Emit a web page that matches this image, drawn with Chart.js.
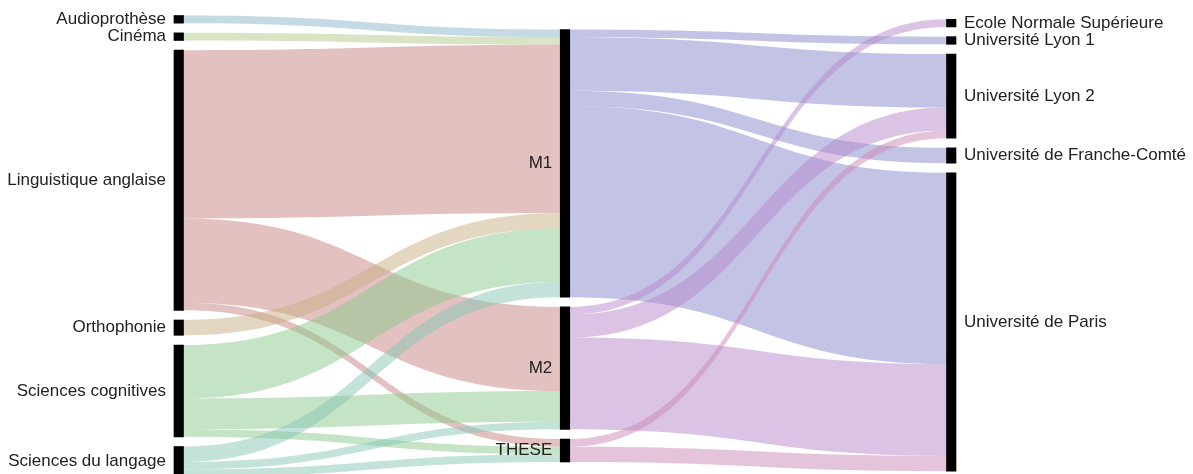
<!DOCTYPE html>
<html>
<head>
<meta charset="utf-8">
<script src="https://cdn.jsdelivr.net/npm/chart.js@4.4.1/dist/chart.umd.min.js"></script>
<style>
  html, body { margin: 0; padding: 0; background: #fff; }
  #wrap { width: 1193px; height: 474px; }
</style>
</head>
<body>
<div id="wrap"><canvas id="myChart"></canvas></div>
<script>
// nodes, in column order
const nodeLabels = ['Audioprothèse', 'Cinéma', 'Linguistique anglaise', 'Orthophonie', 'Sciences cognitives', 'Sciences du langage',
    'M1', 'M2', 'THESE',
    'Ecole Normale Supérieure', 'Université Lyon 1', 'Université Lyon 2', 'Université de Franche-Comté', 'Université de Paris'];
const nodeColumns = [0, 0, 0, 0, 0, 0, 1, 1, 1, 2, 2, 2, 2, 2];

// links: source node, target node, count
const linkSource = [0, 1, 2, 2, 2, 3, 4, 4, 4, 5, 5, 5, 6, 6, 6, 6, 7, 7, 7, 8, 8];
const linkTarget = [6, 6, 6, 7, 8, 6, 6, 7, 8, 6, 7, 8, 10, 11, 12, 13, 9, 11, 13, 11, 13];
const linkValue  = [1, 1, 22, 11, 1, 2, 7, 4, 1, 2, 1, 1, 1, 7, 2, 25, 1, 3, 12, 1, 2];

// link colour = colour of its source node
const linkColors = [
    'rgba(137,181,201,0.5)', 'rgba(179,201,137,0.5)', 'rgba(201,131,131,0.5)', 'rgba(199,175,131,0.5)',
    'rgba(139,199,139,0.5)', 'rgba(135,199,181,0.5)',
    'rgba(135,135,203,0.5)', 'rgba(181,135,203,0.5)', 'rgba(203,135,181,0.5)'
];

// layout (pixels)
const W = 1193, H = 474;
const UNIT_PX = 7.65;
const PAD_PX = 9.7;
const COL_TOP_PX = [15.5, 29.5, 19.3];
const COL0_X = 178.75, COL_STEP = 386.25;
const BAR_W = 9.5;

// node sizes and stacking (in value units)
const nodeValue = nodeLabels.map((_, i) => {
    let inn = 0, out = 0;
    linkValue.forEach((v, k) => {
        if (linkTarget[k] === i) inn += v;
        if (linkSource[k] === i) out += v;
    });
    return Math.max(inn, out);
});
const nodeTop = [];
const colCursor = COL_TOP_PX.map(p => p / UNIT_PX);
nodeLabels.forEach((_, i) => {
    const c = nodeColumns[i];
    nodeTop[i] = colCursor[c];
    colCursor[c] += nodeValue[i] + PAD_PX / UNIT_PX;
});

const flowPlugin = {
    id: 'flows',
    beforeDatasetsDraw(chart) {
        const ctx = chart.ctx, xs = chart.scales.x, ys = chart.scales.y;
        const outOff = nodeLabels.map(() => 0), inOff = nodeLabels.map(() => 0);
        // order links so they stack by the other end's position
        const bySource = linkValue.map((_, k) => k).sort((a, b) => linkSource[a] - linkSource[b] || linkTarget[a] - linkTarget[b]);
        const srcY = [];
        bySource.forEach(k => { srcY[k] = nodeTop[linkSource[k]] + outOff[linkSource[k]]; outOff[linkSource[k]] += linkValue[k]; });
        const byTarget = linkValue.map((_, k) => k).sort((a, b) => linkTarget[a] - linkTarget[b] || linkSource[a] - linkSource[b]);
        const tgtY = [];
        byTarget.forEach(k => { tgtY[k] = nodeTop[linkTarget[k]] + inOff[linkTarget[k]]; inOff[linkTarget[k]] += linkValue[k]; });

        ctx.save();
        linkValue.forEach((v, k) => {
            const s = linkSource[k], t = linkTarget[k];
            const x0 = xs.getPixelForValue(nodeColumns[s]) + BAR_W / 2;
            const x1 = xs.getPixelForValue(nodeColumns[t]) - BAR_W / 2;
            const xm = (x0 + x1) / 2;
            const s0 = ys.getPixelForValue(srcY[k]), s1 = ys.getPixelForValue(srcY[k] + v);
            const t0 = ys.getPixelForValue(tgtY[k]), t1 = ys.getPixelForValue(tgtY[k] + v);
            ctx.beginPath();
            ctx.moveTo(x0, s0);
            ctx.bezierCurveTo(xm, s0, xm, t0, x1, t0);
            ctx.lineTo(x1, t1);
            ctx.bezierCurveTo(xm, t1, xm, s1, x0, s1);
            ctx.closePath();
            ctx.fillStyle = linkColors[s];
            ctx.fill();
        });
        ctx.restore();
    },
    afterDatasetsDraw(chart) {
        const ctx = chart.ctx, xs = chart.scales.x, ys = chart.scales.y;
        ctx.save();
        ctx.font = '17px "Liberation Sans", Arial, sans-serif';
        ctx.fillStyle = '#222';
        ctx.textBaseline = 'middle';
        nodeLabels.forEach((label, i) => {
            const c = nodeColumns[i];
            const px = xs.getPixelForValue(c);
            const py = ys.getPixelForValue(nodeTop[i] + nodeValue[i] / 2);
            if (c === 2) {
                ctx.textAlign = 'left';
                ctx.fillText(label, px + BAR_W / 2 + 8, py);
            } else {
                ctx.textAlign = 'right';
                ctx.fillText(label, px - BAR_W / 2 - 8, py);
            }
        });
        ctx.restore();
    }
};

new Chart(document.getElementById('myChart'), {
    type: 'bar',
    data: {
        datasets: [{
            data: nodeLabels.map((_, i) => ({ x: nodeColumns[i], y: [nodeTop[i], nodeTop[i] + nodeValue[i]] })),
            backgroundColor: '#000',
            barThickness: BAR_W,
            clip: false
        }]
    },
    options: {
        responsive: true,
        maintainAspectRatio: false,
        animation: false,
        layout: { padding: 0 },
        scales: {
            x: { type: 'linear', display: false, offset: false, bounds: 'ticks',
                 min: -COL0_X / COL_STEP, max: (W - COL0_X) / COL_STEP },
            y: { display: false, min: 0, max: H / UNIT_PX, reverse: true }
        },
        plugins: { legend: { display: false }, tooltip: { enabled: false } }
    },
    plugins: [flowPlugin]
});
</script>
</body>
</html>
